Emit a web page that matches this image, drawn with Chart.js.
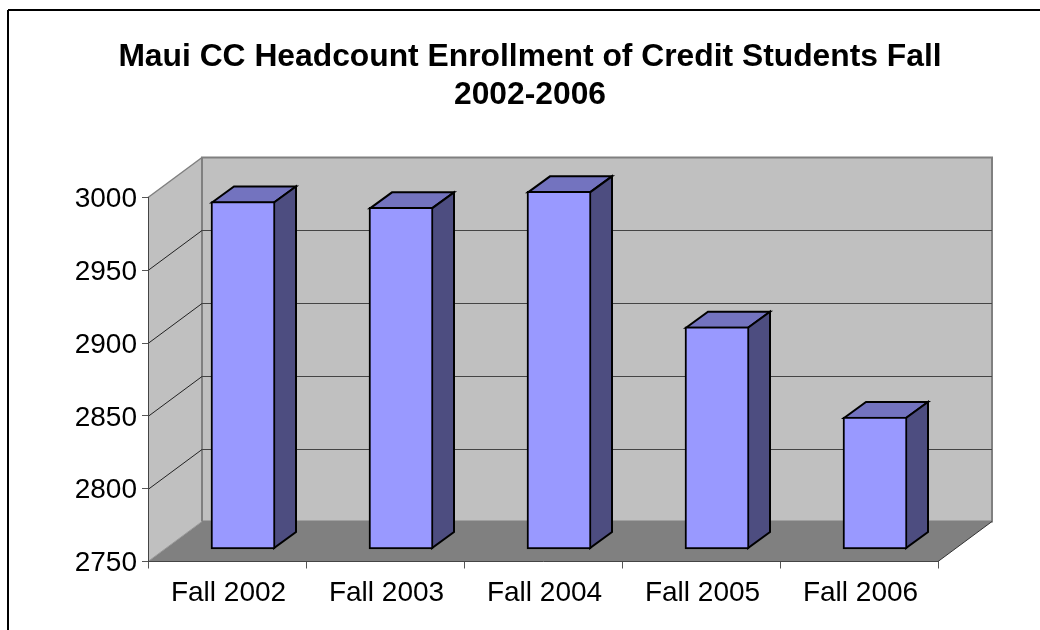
<!DOCTYPE html>
<html>
<head>
<meta charset="utf-8">
<title>Maui CC Headcount Enrollment</title>
<script src="https://cdn.jsdelivr.net/npm/chart.js@4"></script>
<style>
  html, body { margin: 0; padding: 0; background: #fff; overflow: hidden; }
  /* canvas is wider than the window: the original frame runs off the right edge */
  #chart { display: block; }
</style>
</head>
<body>
<canvas id="chart" width="1060" height="630" style="width:1060px;height:630px"></canvas>
<script>
// ── DATA ─────────────────────────────────────────────────
const titleLines = ['Maui CC Headcount Enrollment of Credit Students Fall', '2002-2006'];
const categories = ['Fall 2002', 'Fall 2003', 'Fall 2004', 'Fall 2005', 'Fall 2006'];
const headcount  = [2989, 2985, 2996, 2903, 2841];
const yTicks     = [2750, 2800, 2850, 2900, 2950, 3000];

// ── 3D LOOK ──────────────────────────────────────────────
const WALL_DX = 54, WALL_DY = -40;    // front plane to back wall
const BAR_DX = 16, BAR_DY = -12;      // front plane to bar front
const SIDE_DX = 22, SIDE_DY = -16;    // bar depth
const FONT = '"Liberation Sans", Arial, sans-serif';

function poly(ctx, pts, fill, stroke, width) {
  ctx.beginPath();
  pts.forEach((p, i) => i ? ctx.lineTo(p[0], p[1]) : ctx.moveTo(p[0], p[1]));
  ctx.closePath();
  if (fill) { ctx.fillStyle = fill; ctx.fill(); }
  if (stroke) { ctx.strokeStyle = stroke; ctx.lineWidth = width; ctx.stroke(); }
}

function line(ctx, x1, y1, x2, y2, color, width) {
  ctx.beginPath();
  ctx.moveTo(x1, y1);
  ctx.lineTo(x2, y2);
  ctx.strokeStyle = color;
  ctx.lineWidth = width;
  ctx.stroke();
}

// ── FRAME, WALLS, FLOOR, GRIDLINES ───────────────────────
const wallsPlugin = {
  id: 'walls',
  afterLayout(chart) {
    // title is centred on the whole frame, not on the plot
    chart.titleBlock.left = 0;
    chart.titleBlock.right = chart.width;
  },
  beforeDraw(chart) {
    const { ctx, scales: { x, y } } = chart;
    const left = x.left, right = x.right;
    const top = y.getPixelForValue(yTicks[yTicks.length - 1]);
    const bottom = y.getPixelForValue(yTicks[0]);
    ctx.save();

    // outer frame, only top and left are in the window
    line(ctx, 8, 10, 8, 630, '#000', 2);
    line(ctx, 8, 10, 1060, 10, '#000', 2);

    // back wall + side wall + floor
    poly(ctx, [[left + WALL_DX, top + WALL_DY], [right + WALL_DX, top + WALL_DY],
               [right + WALL_DX, bottom + WALL_DY], [left + WALL_DX, bottom + WALL_DY]],
         '#C0C0C0', '#808080', 2);
    poly(ctx, [[left, top], [left + WALL_DX, top + WALL_DY],
               [left + WALL_DX, bottom + WALL_DY], [left, bottom]],
         '#C0C0C0', null);
    line(ctx, left, top, left + WALL_DX, top + WALL_DY, '#808080', 1.5);
    line(ctx, left + WALL_DX, top + WALL_DY, left + WALL_DX, bottom + WALL_DY, '#808080', 2);

    yTicks.slice(1, -1).forEach(v => {
      const py = Math.round(y.getPixelForValue(v)) + 0.5;
      line(ctx, left, py, left + WALL_DX, py + WALL_DY, '#222', 1);
      line(ctx, left + WALL_DX, py + WALL_DY, right + WALL_DX, py + WALL_DY, '#444', 1);
    });

    poly(ctx, [[left, bottom], [right, bottom],
               [right + WALL_DX, bottom + WALL_DY], [left + WALL_DX, bottom + WALL_DY]],
         '#808080', null);
    line(ctx, left, bottom, left + WALL_DX, bottom + WALL_DY, '#999', 1);
    line(ctx, right, bottom, right + WALL_DX, bottom + WALL_DY, '#333', 1);
    ctx.restore();
  }
};

// ── BAR DEPTH: shift the library's bars back, add top and side faces ──
const depthPlugin = {
  id: 'depth',
  beforeDatasetDraw(chart, args) {
    const ctx = chart.ctx;
    ctx.save();
    ctx.translate(BAR_DX, BAR_DY);
    args.meta.data.forEach(bar => {
      const { x, y, base, width } = bar.getProps(['x', 'y', 'base', 'width'], true);
      const l = x - width / 2 + 1, r = x + width / 2 - 1, t = y + 1, b = base - 1;
      ctx.lineJoin = 'miter';
      poly(ctx, [[l, t], [l + SIDE_DX, t + SIDE_DY], [r + SIDE_DX, t + SIDE_DY], [r, t]],
           '#7373BF', '#000', 2);
      poly(ctx, [[r, t], [r + SIDE_DX, t + SIDE_DY], [r + SIDE_DX, b + SIDE_DY], [r, b]],
           '#4D4D80', '#000', 2);
    });
  },
  afterDatasetDraw(chart) {
    chart.ctx.restore();
  }
};

// ── CHART ────────────────────────────────────────────────
new Chart(document.getElementById('chart').getContext('2d'), {
  type: 'bar',
  data: {
    labels: categories,
    datasets: [{
      data: headcount,
      base: yTicks[0],
      backgroundColor: '#9999FF',
      borderColor: '#000',
      borderWidth: 2,
      borderSkipped: false,
      barThickness: 64,
      clip: false
    }]
  },
  options: {
    responsive: false,
    animation: false,
    layout: { padding: { left: 0, right: 122, top: 0, bottom: 0 } },
    plugins: {
      legend: { display: false },
      tooltip: { enabled: false },
      title: {
        display: true,
        text: titleLines,
        color: '#000',
        font: { family: FONT, size: 31.8, weight: 'bold', lineHeight: 1.195 },
        padding: { top: 38, bottom: 83.5 }
      }
    },
    scales: {
      x: {
        afterFit(scale) { scale.height = 68.5; },
        grid: { drawOnChartArea: false, color: '#555', tickLength: 7, tickWidth: 1 },
        border: { color: '#444', width: 1 },
        ticks: { color: '#000', font: { family: FONT, size: 28 }, padding: 8, maxRotation: 0, labelOffset: 1.5 }
      },
      y: {
        min: yTicks[0],
        max: yTicks[yTicks.length - 1],
        afterFit(scale) { scale.width = 148; },
        afterBuildTicks(scale) { scale.ticks = yTicks.map(v => ({ value: v })); },
        grid: { drawOnChartArea: false, color: '#555', tickLength: 6, tickWidth: 1 },
        border: { color: '#444', width: 1 },
        ticks: { color: '#000', font: { family: FONT, size: 28 }, padding: 5, labelOffset: 2, callback: v => String(v) }
      }
    }
  },
  plugins: [wallsPlugin, depthPlugin]
});
</script>
</body>
</html>
